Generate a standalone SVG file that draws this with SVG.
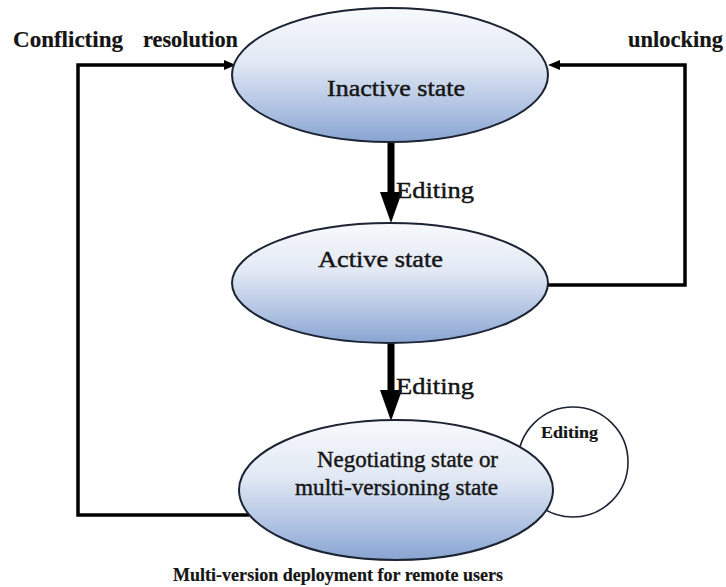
<svg xmlns="http://www.w3.org/2000/svg" width="726" height="587" viewBox="0 0 726 587">
  <style>
    .state { stroke: #1c2433; stroke-width: 2; fill: url(#stateFill); }
    .loop { fill: none; stroke: #1c2433; stroke-width: 1.6; }
    .wire { fill: none; stroke: #000; stroke-width: 3.5; stroke-linejoin: miter; }
    .flow { fill: none; stroke: #000; stroke-width: 7; }
    text { font-family: 'Liberation Serif', 'Times New Roman', serif; fill: #151515; stroke: #151515; stroke-width: 0.45; }
    .big { font-size: 24px; }
    .edge { font-size: 23px; }
    .bold { font-weight: bold; stroke-width: 0.2; }
  </style>
  <defs>
    <linearGradient id="stateFill" x1="0" y1="0" x2="0" y2="1">
      <stop offset="0" stop-color="#f7f9fc"/>
      <stop offset="0.4" stop-color="#e2e9f4"/>
      <stop offset="0.78" stop-color="#abbfe0"/>
      <stop offset="1" stop-color="#88a4d1"/>
    </linearGradient>
  </defs>

  <!-- self loop behind the negotiating state -->
  <g id="selfLoop">
    <circle class="loop" cx="573" cy="462" r="55"/>
    <text class="bold" x="541" y="438" font-size="17" textLength="57" lengthAdjust="spacingAndGlyphs">Editing</text>
  </g>

  <!-- connectors -->
  <g id="connectors">
    <polyline class="wire" points="249,515 78,515 78,65 226,65"/>
    <path d="M236,65 L224,60 L224,70 Z" fill="#000"/>
    <polyline class="wire" points="547,285 685,285 685,65 558,65"/>
    <path d="M548,65 L560,60 L560,70 Z" fill="#000"/>

    <line class="flow" x1="391" y1="143" x2="391" y2="194"/>
    <path d="M380,192 L402,192 L391,223 Z" fill="#000"/>
    <line class="flow" x1="391" y1="343" x2="391" y2="392"/>
    <path d="M380,390 L402,390 L391,421 Z" fill="#000"/>

    <text class="edge" x="396" y="198" textLength="78" lengthAdjust="spacingAndGlyphs">Editing</text>
    <text class="edge" x="396" y="394" textLength="78" lengthAdjust="spacingAndGlyphs">Editing</text>
    <text class="edge bold" x="13" y="47" textLength="110" lengthAdjust="spacingAndGlyphs">Conflicting</text>
    <text class="edge bold" x="143" y="47" textLength="95" lengthAdjust="spacingAndGlyphs">resolution</text>
    <text class="edge bold" x="628" y="47" textLength="95" lengthAdjust="spacingAndGlyphs">unlocking</text>
  </g>

  <g id="inactive">
    <ellipse class="state" cx="390" cy="75" rx="158" ry="67"/>
    <text class="big" x="327" y="96" textLength="138" lengthAdjust="spacingAndGlyphs">Inactive state</text>
  </g>

  <g id="active">
    <ellipse class="state" cx="390" cy="283" rx="158" ry="60"/>
    <text class="big" x="318" y="267" textLength="125" lengthAdjust="spacingAndGlyphs">Active state</text>
  </g>

  <g id="negotiating">
    <ellipse class="state" cx="396" cy="490" rx="157" ry="70"/>
    <text class="big" x="317" y="467" textLength="181" lengthAdjust="spacingAndGlyphs">Negotiating state or</text>
    <text class="big" x="295" y="495" textLength="203" lengthAdjust="spacingAndGlyphs">multi-versioning state</text>
  </g>

  <text id="caption" class="bold" x="173" y="581" font-size="18" textLength="330" lengthAdjust="spacingAndGlyphs">Multi-version deployment for remote users</text>
</svg>
